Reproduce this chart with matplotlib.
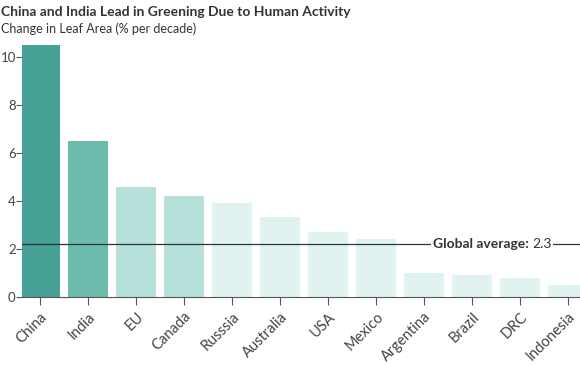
import matplotlib.pyplot as plt

countries = ["China", "India", "EU", "Canada", "Russsia", "Australia", "USA",
             "Mexico", "Argentina", "Brazil", "DRC", "Indonesia"]
change = [10.5, 6.5, 4.6, 4.2, 3.9, 3.35, 2.7, 2.4, 1.0, 0.9, 0.8, 0.5]
colors = ["#46a196", "#6cbbad", "#b6e0da", "#b6e0da"] + ["#e0f3f1"] * 8
global_avg_line = 2.2
global_avg_label = "2.3"

plt.rcParams["font.family"] = ["Lato", "DejaVu Sans"]

fig = plt.figure(figsize=(5.8, 3.65), dpi=100)
ax = fig.add_axes([22 / 580, 68 / 365, 558 / 580, 10.7 * 24 / 365])

x = range(len(countries))
ax.bar(x, change, width=0.83, color=colors)
ax.set_xlim(-0.378, 11.25)
ax.set_ylim(0, 10.7)

ax.axhline(global_avg_line, color="#333333", lw=0.9)
ax.text(10.25, global_avg_line, "Global average: ", fontweight="bold", fontsize=10,
        color="#333333", ha="right", va="center",
        bbox=dict(facecolor="white", edgecolor="none", pad=1.5))
ax.text(10.25, global_avg_line, global_avg_label, fontsize=10, color="#333333",
        ha="left", va="center", bbox=dict(facecolor="white", edgecolor="none", pad=1.5))

for s in ["top", "right", "left"]:
    ax.spines[s].set_visible(False)
ax.spines["bottom"].set_color("#555555")
ax.set_xticks(list(x))
ax.set_xticklabels(countries, rotation=45, ha="right", rotation_mode="anchor",
                   fontsize=10.5, color="#444444")
ax.set_yticks([0, 2, 4, 6, 8, 10])
ax.tick_params(axis="y", length=4, color="#555555", labelsize=9.5, labelcolor="#444444", pad=0.5)
ax.tick_params(axis="x", length=6, color="#555555", pad=3)

fig.text(0.002, 1 - 12 / 365, "China and India Lead in Greening Due to Human Activity",
         fontsize=10, fontweight="bold", color="#333333", va="center", ha="left")
fig.text(0.002, 1 - 29 / 365, "Change in Leaf Area (% per decade)",
         fontsize=9, color="#333333", va="center", ha="left")

fig.savefig("out.png", dpi=100)
